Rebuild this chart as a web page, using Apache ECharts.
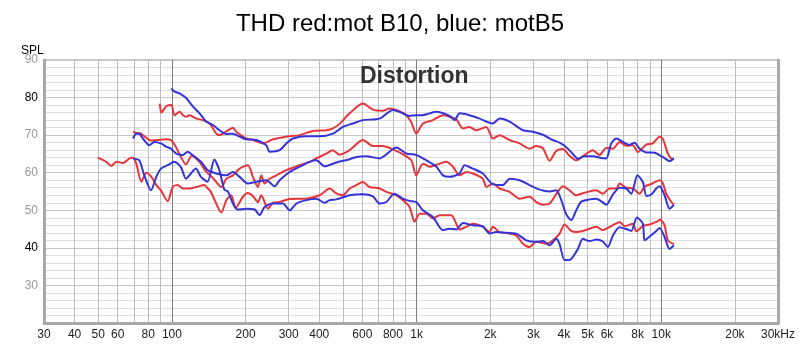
<!DOCTYPE html>
<html><head><meta charset="utf-8">
<script src="https://cdn.jsdelivr.net/npm/echarts@6/dist/echarts.min.js"></script>
<style>html,body{margin:0;padding:0;background:#fff}#c{width:800px;height:346px}</style>
</head><body><div id="c"></div>
<script>
const titleText = 'THD red:mot B10, blue: motB5';
const innerText = 'Distortion';
const yName = 'SPL';
const xTickValues = [30,40,50,60,70,80,90,100,200,300,400,500,600,700,800,900,1000,2000,3000,4000,5000,6000,7000,8000,9000,10000,20000,30000];
const xLabelValues = [30,40,50,60,80,100,200,300,400,600,800,1000,2000,3000,4000,5000,6000,8000,10000,20000,30000];
const yMin = 20, yMax = 90, yStep = 10;

// red: mot B10  (frequency Hz, level dB)
const redTop = [[89.3,78.4],[90.5,76.0],[94.9,77.7],[99.4,78.0],[102.6,75.3],[107.5,76.2],[110.9,75.3],[114.5,74.9],[118.1,75.3],[125.8,74.4],[133.9,74.0],[142.6,73.1],[151.8,70.4],[156.6,70.0],[166.9,71.0],[177.5,72.0],[183.3,70.9],[195.1,69.6],[201.4,69.1],[214.3,68.7],[228.2,68.0],[235.4,67.8],[258.7,68.9],[293.5,69.6],[332.6,70.0],[376.9,71.1],[427.6,71.3],[454.9,71.8],[484.5,73.0],[532.4,75.8],[603.4,78.4],[662.9,76.8],[728.4,76.5],[775.7,77.1],[826.2,76.7],[907.6,75.3],[950,73.5],[997,70.4],[1061,73.1],[1166,74.0],[1281,75.3],[1364,74.9],[1453,74.2],[1546,71.8],[1646,72.2],[1754,71.3],[1927,72.2],[2050,69.1],[2184,70.0],[2399,68.7],[2636,67.8],[2896,66.4],[3084,67.1],[3282,66.5],[3495,63.2],[3723,65.8],[3962,66.3],[4219,64.5],[4493,63.3],[4782,64.4],[5253,66.0],[5595,64.7],[5959,66.6],[6342,66.4],[6755,68.2],[7194,67.2],[7654,67.3],[8025,65.5],[8684,67.5],[9241,67.8],[9842,69.6],[10151,69.0],[10641,65.1],[10987,63.8],[11260,63.7]];
const redMid = [[69.3,70.9],[71.5,70.6],[74.7,70.4],[82,68.6],[87.4,68.7],[94.9,68.9],[99,68.7],[104,66.8],[108.8,64.2],[114.1,62.2],[120.5,64.5],[129.8,62.8],[138.2,60.2],[147.1,58.6],[159.2,56.2],[166.9,58.4],[177.5,59.3],[189.1,61.1],[204.5,62.0],[214.3,58.9],[224.6,56.2],[231.9,59.3],[239.2,57.1],[250.8,58.4],[267.1,59.3],[293.5,60.7],[332.6,62.0],[365.4,62.9],[389.2,63.8],[427.6,65.1],[454.9,66.0],[484.5,64.8],[532.4,66.0],[603.4,68.7],[662.9,67.1],[728.4,67.1],[800.2,66.2],[879,64.9],[951.4,63.3],[997,59.3],[1061,62.4],[1130,61.6],[1242,62.4],[1323,62.9],[1407,61.6],[1498,59.3],[1596,60.2],[1698,59.8],[1866,58.4],[1927,56.2],[2050,57.1],[2184,55.8],[2399,54.9],[2636,53.1],[2896,53.6],[3084,52.2],[3282,51.5],[3495,51.8],[3723,54.3],[3962,56.4],[4219,55.3],[4493,54.0],[4710,54.4],[5012,54.9],[5424,55.3],[5771,54.4],[6148,55.8],[6548,55.8],[6755,57.1],[7194,56.0],[7654,55.8],[8154,54.4],[8547,56.3],[9102,57.0],[9842,58.0],[10151,57.2],[10482,54.4],[10987,52.2],[11260,51.5]];
const redLow = [[49.7,64.0],[53.9,62.9],[56.5,61.8],[59.3,62.9],[63.1,62.6],[67.2,63.8],[69.3,64.0],[71.5,62.4],[75,57.6],[78.6,60.0],[82.4,58.9],[86.4,56.7],[90.2,55.3],[96.1,52.4],[100.7,56.2],[105.5,56.7],[110.9,55.8],[118.1,55.8],[125.8,56.2],[135.6,56.7],[140.3,55.8],[144.3,54.9],[149.5,52.7],[159.2,49.4],[166.9,52.7],[174.8,54.0],[182,50.6],[195.1,53.6],[204.5,54.6],[214.3,53.8],[224.6,52.2],[231.9,54.0],[246.8,50.4],[258.7,52.0],[275.5,52.2],[302.7,53.0],[354.2,53.1],[401.4,54.0],[441.1,55.8],[469.7,54.5],[499.8,54.0],[532.4,55.8],[567.1,56.7],[603.4,57.5],[642.6,56.2],[706.1,55.8],[752,54.9],[826.2,54.0],[879,52.7],[936.3,50.9],[981.3,46.9],[1029,49.1],[1096,49.1],[1166,47.8],[1242,48.7],[1386,48.7],[1453,46.4],[1498,44.9],[1596,45.6],[1698,46.4],[1866,45.6],[1988,44.2],[2050,45.6],[2184,44.2],[2399,43.8],[2555,43.3],[2719,41.1],[2896,40.2],[3084,41.6],[3388,41.1],[3606,42.0],[3840,43.8],[4025,46.2],[4287,44.5],[4493,44.2],[4782,44.5],[5093,45.1],[5424,45.6],[5771,44.7],[6148,45.6],[6548,46.5],[6755,46.9],[7079,45.8],[7654,46.4],[7904,44.4],[8411,45.8],[8958,46.2],[9541,46.9],[9907,47.5],[10315,46.0],[10641,42.0],[11260,41.0]];

// blue: motB5
const blueTop = [[99.4,82.4],[102.6,81.6],[107.5,81.1],[114.5,79.8],[121.9,77.6],[129.8,75.8],[138.2,73.6],[147.1,72.7],[156.6,71.3],[166.9,70.3],[177.5,70.4],[189.1,69.6],[201.4,68.9],[221.3,68.7],[243.1,67.3],[250.8,65.6],[275.5,66.0],[293.5,67.8],[312.3,69.1],[354.2,69.7],[401.4,69.7],[454.9,70.4],[499.8,72.2],[549.2,73.1],[603.4,74.0],[706.1,74.4],[800.2,76.7],[852.2,76.2],[936.3,75.1],[997,75.3],[1061,75.3],[1130,75.8],[1204,76.2],[1364,75.1],[1430,74.0],[1498,75.8],[1646,75.3],[1809,74.4],[2050,73.1],[2184,74.4],[2399,73.6],[2719,71.3],[2987,70.9],[3282,70.1],[3606,68.7],[3840,68.0],[4090,66.8],[4352,65.0],[4562,63.7],[4859,64.4],[5253,64.4],[5685,63.9],[5959,63.8],[6247,67.8],[6548,69.1],[6969,68.2],[7421,67.4],[7779,68.0],[8154,66.4],[8684,65.4],[9389,65.3],[10000,64.4],[10641,63.3],[10812,63.1],[11260,63.8]];
const blueMid = [[69.3,69.1],[71.5,70.4],[73.5,70.4],[76.1,69.1],[80.8,67.3],[84.7,68.2],[90.2,67.8],[94.9,66.9],[99,66.4],[104.2,65.1],[110.9,64.7],[115.9,65.6],[121.5,64.7],[131.4,62.9],[139.9,60.7],[151.8,59.8],[166.9,59.3],[177.5,60.2],[189.1,58.9],[204.5,57.1],[221.3,57.6],[243.1,58.0],[262.9,56.4],[275.5,58.0],[302.7,60.2],[332.6,61.6],[365.4,62.9],[389.2,63.3],[420.7,61.7],[469.7,62.7],[532.4,63.6],[567.1,64.2],[623,64.4],[706.1,63.8],[826.2,66.7],[907.6,65.1],[997,64.7],[1096,63.3],[1204,61.6],[1281,59.3],[1364,58.9],[1498,59.8],[1571,62.0],[1698,61.1],[1866,59.8],[2050,56.9],[2253,56.7],[2399,58.4],[2636,58.0],[2896,56.7],[3181,55.5],[3495,55.0],[3723,55.3],[3903,52.7],[4090,48.9],[4287,47.4],[4493,50.0],[4710,52.3],[5093,52.9],[5424,53.1],[5685,52.4],[5959,51.5],[6342,54.2],[6755,56.0],[7194,55.8],[7540,54.4],[7990,59.3],[8411,57.5],[8700,53.8],[9102,54.2],[9541,55.8],[9842,56.4],[10315,54.0],[10812,50.4],[11260,51.4]];
const blueLow = [[69.3,63.8],[73.5,63.3],[77.1,59.3],[82.1,55.3],[86.3,58.9],[90.2,61.1],[96.1,62.0],[102.3,62.9],[108.8,61.5],[114.1,58.4],[119.6,59.8],[125.3,61.1],[131.4,58.9],[139.9,57.6],[149,63.5],[156.2,60.7],[163.7,55.5],[169.4,55.0],[177.5,51.8],[185.6,50.2],[201.4,50.4],[217.8,50.2],[228.2,48.7],[239.2,50.9],[258.7,51.8],[284.2,51.8],[302.7,50.0],[322.5,51.8],[354.2,52.7],[389.2,53.1],[420.7,52.0],[441.1,52.7],[469.7,52.9],[532.4,54.0],[603.4,54.3],[662.9,53.7],[706.1,51.8],[752,52.2],[811,54.4],[879,53.1],[936.3,52.5],[997,52.2],[1061,50.0],[1166,48.2],[1281,44.7],[1364,45.1],[1453,44.9],[1546,46.6],[1698,46.0],[1866,45.7],[1988,43.8],[2117,44.2],[2326,44.0],[2555,43.8],[2808,42.0],[3084,41.6],[3282,41.8],[3495,40.7],[3723,42.4],[3840,41.0],[4025,36.8],[4219,36.8],[4352,37.6],[4562,39.7],[4782,42.4],[5093,41.8],[5424,42.2],[5771,41.7],[6050,40.2],[6342,43.3],[6755,45.5],[7194,45.0],[7540,44.5],[7950,48.1],[8411,46.4],[8547,42.0],[8958,43.0],[9541,44.5],[9842,45.3],[10315,42.9],[10812,39.7],[11260,40.7]];

const RED = '#e8343a', BLUE = '#3434d8';
const FONT = 'Liberation Sans, Arial, sans-serif';

function mk(name, data, color) {
  return { name, type: 'line', data, showSymbol: false, smooth: 0.25,
    lineStyle: { color, width: 2 }, itemStyle: { color }, animation: false, z: 5 };
}

// vertical grid colours: darker line at each decade (100, 1k, 10k)
const vColors = ['#bdbdbd','#bdbdbd','#bdbdbd','#bdbdbd','#bdbdbd','#bdbdbd','#bdbdbd','#7c7c7c','#bdbdbd'];

const chart = echarts.init(document.getElementById('c'), null, { renderer: 'canvas' });
chart.setOption({
  animation: false,
  backgroundColor: '#fff',
  title: [
    { text: titleText, left: 'center', top: 7, textStyle: { fontFamily: FONT, fontSize: 24, fontWeight: 'normal', color: '#000' } },
    { text: innerText, left: 355, top: 60, textStyle: { fontFamily: FONT, fontSize: 23, fontWeight: 'bold', color: '#333' } },
    { text: yName, left: 16, top: 40, textStyle: { fontFamily: FONT, fontSize: 12, fontWeight: 'normal', color: '#000' } }
  ],
  grid: { left: 44, right: 22, top: 60, bottom: 23, show: true, borderColor: '#8e8e8e', borderWidth: 1 },
  xAxis: {
    type: 'log', logBase: 10, min: 30, max: 30000,
    axisLine: { show: true, onZero: false, lineStyle: { color: '#a8a8a8', width: 3 } },
    axisTick: { show: false, customValues: xTickValues },
    axisLabel: { customValues: xLabelValues, margin: 6, fontFamily: FONT, fontSize: 12, color: '#222',
      formatter: v => v >= 29999 ? '30kHz' : v >= 1000 ? Math.round(v / 1000) + 'k' : String(Math.round(v)) },
    splitLine: { show: true, lineStyle: { color: vColors, width: 1 } }
  },
  yAxis: [{
    type: 'value', min: yMin, max: yMax, interval: yStep,
    axisLine: { show: true, lineStyle: { color: '#a8a8a8', width: 3 } },
    axisTick: { show: false },
    axisLabel: { margin: 6, fontFamily: FONT, fontSize: 12, color: '#9a9a9a',
      formatter: v => v === yMin ? '' : (v === 80 || v === 40) ? '{b|' + v + '}' : String(v),
      rich: { b: { color: '#000', fontFamily: FONT, fontSize: 12 } } },
    splitLine: { show: true, lineStyle: { color: '#c6c6c6' } },
    minorTick: { show: false, splitNumber: 5 },
    minorSplitLine: { show: true, lineStyle: { color: '#dedede' } }
  }, {
    type: 'value', min: yMin, max: yMax, position: 'right',
    axisLine: { show: true, lineStyle: { color: '#a8a8a8', width: 3 } },
    axisTick: { show: false }, axisLabel: { show: false }, splitLine: { show: false }
  }],
  series: [
    mk('red top', redTop, RED), mk('red mid', redMid, RED), mk('red low', redLow, RED),
    mk('blue top', blueTop, BLUE), mk('blue mid', blueMid, BLUE), mk('blue low', blueLow, BLUE)
  ]
});
</script></body></html>
